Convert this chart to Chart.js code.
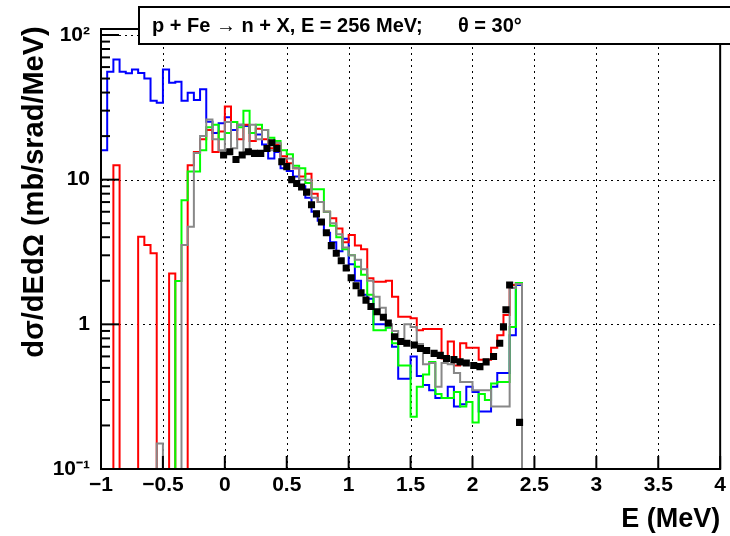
<!DOCTYPE html>
<html><head><meta charset="utf-8">
<script src="https://cdn.jsdelivr.net/npm/chart.js@4.4.1/dist/chart.umd.min.js"></script>
<style>html,body{margin:0;padding:0;background:#fff}canvas{display:block}</style>
</head><body>
<canvas id="c" width="730" height="536"></canvas>
<script>
// ---- data (bins of 0.05 starting at -1) ----
const binStart = -1.0;
const binWidth = 0.05;
const blueVals = [16.0,55.7,67.8,55.7,54.3,57.8,54.5,50.1,35.1,34.0,57.8,46.7,47.5,35.1,39.9,35.5,42.1,25.1,21.0,24.5,
  27.0,22.0,24.0,23.5,21.0,20.5,17.5,14.0,15.5,12.0,11.5,10.5,9.0,7.5,6.0,5.2,4.3,3.7,3.2,3.9,
  2.6,2.0,1.6,1.5,1.0,1.0,0.95,0.70,0.42,0.42,0.60,0.44,0.38,0.35,0.31,0.31,0.37,0.27,0.28,0.37,
  0.34,0.25,0.25,0.37,0.46,0.46,0.84,1.87];
const redVals = [0,0,12.6,0,0,0,4.03,3.53,3.10,0,0,2.25,0,0,12.6,15.5,19.0,22.0,15.5,21.5,
  32.0,25.0,19.0,24.0,18.5,22.5,19.0,16.5,17.5,14.5,13.0,12.0,10.5,11.0,8.0,7.0,6.0,5.4,4.6,3.7,
  4.14,3.5,3.3,2.08,1.97,1.97,2.0,1.55,1.13,1.13,1.10,0.91,0.93,0.93,0.93,0.58,0.76,0.52,0.74,0.69,
  0.69,0.57,0.57,0.69,0.84,1.16,1.87,1.93];
const greenVals = [0,0,0,0,0,0,0,0,0,0,0,0,1.99,7.2,11.4,11.4,16.0,23.0,24.0,19.0,
  21.0,25.0,23.0,30.0,21.0,24.0,22.0,19.5,18.5,16.0,15.0,12.5,12.0,9.5,8.6,8.6,6.0,4.8,4.0,3.3,
  3.0,2.5,2.2,1.6,0.91,0.91,0.95,0.74,0.52,0.52,0.23,0.37,0.45,0.55,0.33,0.31,0.31,0.34,0.27,0.29,
  0.21,0.33,0.30,0.39,0.40,0.40,0.96,1.93];
const grayVals = [0,0,0,0,0,0,0,0,0,0.15,0,0,0,3.53,4.73,15.3,20.0,26.0,19.0,16.0,
  25.0,16.5,24.0,15.5,24.0,19.0,22.0,16.0,18.0,14.0,14.0,12.0,10.0,10.0,7.5,7.0,6.0,5.0,4.2,3.4,
  3.0,2.8,2.4,2.0,1.55,1.3,1.0,0.9,0.76,1.0,0.96,0.73,0.53,0.54,0.37,0.54,0.53,0.46,0.40,0.40,
  0.35,0.35,0.35,0.27,0.27,0.27,1.78,1.90];
const expE = [-0.01,0.04,0.09,0.14,0.19,0.24,0.29,0.34,0.38,0.42,0.46,0.50,0.54,0.58,0.62,0.66,0.70,0.74,0.78,0.82,
  0.86,0.90,0.94,0.98,1.02,1.06,1.10,1.14,1.18,1.23,1.28,1.32,1.37,1.42,1.47,1.53,1.58,1.63,1.69,1.74,
  1.79,1.85,1.90,1.95,2.01,2.06,2.11,2.17,2.22,2.25,2.27,2.30,2.38];
const expXS = [14.8,15.6,13.8,14.8,15.6,15.2,15.2,16.4,18.0,16.4,13.3,12.3,10.0,9.4,8.9,8.2,6.7,5.8,5.1,4.3,
  3.5,3.1,2.75,2.45,2.1,1.85,1.65,1.47,1.33,1.22,1.12,1.02,0.82,0.76,0.74,0.72,0.68,0.66,0.63,0.61,
  0.58,0.57,0.55,0.54,0.52,0.51,0.55,0.60,0.74,0.96,1.26,1.87,0.21];
const xTicks = [-1,-0.5,0,0.5,1,1.5,2,2.5,3,3.5,4];
const yMajor = [0.1,1,10,100];
const yLabels = ['10\u207B\u00B9','1','10','10\u00B2'];
const titleText = 'p + Fe \u2192 n + X, E = 256 MeV;';
const titleText2 = '\u03B8 = 30\u00B0';
const yTitle = 'd\u03C3/dEd\u03A9 (mb/srad/MeV)';
const xTitle = 'E (MeV)';

const FONT = "'Liberation Sans', Arial, sans-serif";
const FLOOR = 1e-4;
function steps(vals){
  const pts = vals.map((v,i)=>({x: binStart + i*binWidth, y: v>0 ? v : FLOOR}));
  pts.push({x: binStart + vals.length*binWidth, y: FLOOR});
  return pts;
}
function hist(vals, color){
  return {type:'line', data: steps(vals), borderColor: color, borderWidth: 2, pointRadius: 0,
    stepped: 'before', fill: false, tension: 0};
}

const rootPlugin = {
  id: 'rootStyle',
  beforeDatasetsDraw(chart){
    const {ctx, chartArea: a, scales: {x, y}} = chart;
    ctx.save();
    ctx.strokeStyle = '#000'; ctx.lineWidth = 1; ctx.setLineDash([2,4]);
    xTicks.forEach(v=>{ if (v<=-1||v>=4) return; const px = Math.round(x.getPixelForValue(v))+0.5;
      ctx.beginPath(); ctx.moveTo(px, a.top); ctx.lineTo(px, a.bottom); ctx.stroke(); });
    yMajor.forEach(v=>{ if (v<=0.1) return; const py = Math.round(y.getPixelForValue(v))+0.5;
      ctx.beginPath(); ctx.moveTo(a.left, py); ctx.lineTo(a.right, py); ctx.stroke(); });
    ctx.restore();
  },
  afterDatasetsDraw(chart){
    const {ctx, chartArea: a, scales: {x, y}} = chart;
    ctx.save();
    ctx.strokeStyle = '#000'; ctx.lineWidth = 2; ctx.setLineDash([]);
    ctx.strokeRect(a.left, a.top, a.right - a.left, a.bottom - a.top);
    ctx.lineWidth = 2;
    xTicks.forEach(v=>{ const px = x.getPixelForValue(v);
      ctx.beginPath(); ctx.moveTo(px, a.bottom); ctx.lineTo(px, a.bottom - 13); ctx.stroke(); });
    for (let d = 0.1; d < 200; d *= 10) {
      for (let m = 1; m <= 9; m++) {
        const v = d*m; if (v < 0.1 || v > y.max) continue;
        const py = y.getPixelForValue(v);
        ctx.beginPath(); ctx.moveTo(a.left, py); ctx.lineTo(a.left + (m===1 ? 18 : 9), py); ctx.stroke();
      }
    }
    ctx.restore();
  },
  afterDraw(chart){
    const {ctx} = chart;
    ctx.save();
    // title box
    ctx.fillStyle = '#fff'; ctx.fillRect(139, 7, 600, 37);
    ctx.strokeStyle = '#000'; ctx.lineWidth = 2; ctx.strokeRect(139, 7, 600, 37);
    ctx.fillStyle = '#000'; ctx.font = 'bold 20px ' + FONT; ctx.textBaseline = 'middle'; ctx.textAlign = 'left';
    ctx.fillText(titleText, 152, 26);
    ctx.fillText(titleText2, 458, 26);
    // y title
    ctx.translate(35, 192); ctx.rotate(-Math.PI/2);
    ctx.font = 'bold 29px ' + FONT; ctx.textAlign = 'center';
    ctx.fillText(yTitle, 0, 0);
    ctx.restore();
  }
};

new Chart(document.getElementById('c'), {
  type: 'scatter',
  data: { datasets: [
    {type:'scatter', data: expE.map((e,i)=>({x:e, y:expXS[i]})), backgroundColor:'#000', borderColor:'#000',
      pointStyle:'rect', pointRadius:5, pointHoverRadius:5, borderWidth:0, showLine:false},
    hist(grayVals, '#888888'),
    hist(greenVals, '#00ff00'),
    hist(redVals, '#ff0000'),
    hist(blueVals, '#0000ff')
  ]},
  options: {
    responsive: false, animation: false, devicePixelRatio: 1,
    layout: {padding: {top: 29, right: 4, left: 0, bottom: 0}},
    plugins: {legend: {display:false}, tooltip: {enabled:false}},
    scales: {
      x: {type:'linear', min:-1, max:4,
        afterBuildTicks: s => { s.ticks = xTicks.map(v=>({value:v})); },
        afterFit: s => { s.height = 67; },
        grid: {display:false, drawTicks:false}, border: {display:false},
        ticks: {color:'#000', font:{family:FONT, weight:'bold', size:21}, padding:4, maxRotation:0, autoSkip:false,
          callback: v => (v<0 ? '\u2212' : '') + Math.abs(v)},
        title: {display:true, text:xTitle, align:'end', color:'#000', font:{family:FONT, weight:'bold', size:27}, padding:{top:0,bottom:0}}
      },
      y: {type:'logarithmic', min:0.1, max:110,
        afterBuildTicks: s => { s.ticks = yMajor.map(v=>({value:v})); },
        afterFit: s => { s.width = 101; },
        grid: {display:false, drawTicks:false}, border: {display:false},
        ticks: {color:'#000', font:{family:FONT, weight:'bold', size:21}, padding:11, autoSkip:false,
          callback: (v) => { const i = yMajor.indexOf(v); return i>=0 ? yLabels[i] : ''; }}
      }
    }
  },
  plugins: [rootPlugin]
});
</script>
</body></html>
